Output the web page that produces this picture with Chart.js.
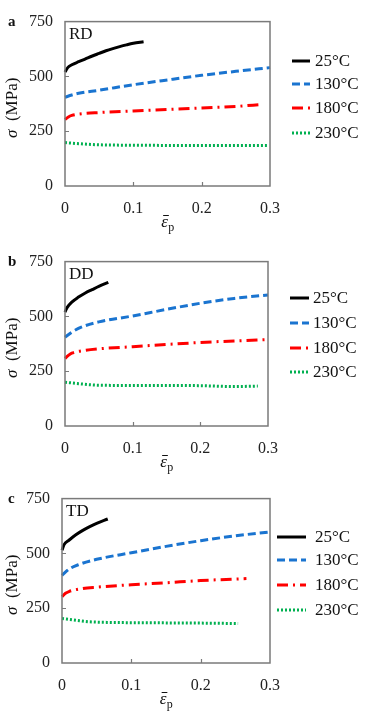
<!DOCTYPE html>
<html>
<head>
<meta charset="utf-8">
<script src="https://cdn.jsdelivr.net/npm/chart.js@4.4.1/dist/chart.umd.min.js"></script>
<style>
  html, body { margin: 0; padding: 0; background: #fff; }
  #wrap { position: relative; width: 367px; height: 714px; }
  .panel { position: absolute; left: 0; width: 367px; height: 237px; }
</style>
</head>
<body>
<div id="wrap">
  <div class="panel" style="top:0"><canvas id="chart-rd"></canvas></div>
  <div class="panel" style="top:240px"><canvas id="chart-dd"></canvas></div>
  <div class="panel" style="top:477px"><canvas id="chart-td"></canvas></div>
</div>
<script>
// Temperatures (legend labels)
const temps = ["25\u00b0C", "130\u00b0C", "180\u00b0C", "230\u00b0C"];
const yTicks = [0, 250, 500, 750];
const xTicks = [0, 0.1, 0.2, 0.3];

// RD: [plastic strain, stress MPa]
const rd25 = [[0, 520], [0.004, 540], [0.01, 553], [0.02, 567], [0.03, 580], [0.04, 593], [0.05, 605], [0.06, 617], [0.07, 627], [0.08, 636], [0.09, 644], [0.1, 651], [0.115, 658]];
const rd130 = [[0, 405], [0.01, 415], [0.02, 423], [0.05, 437], [0.1, 462], [0.15, 484], [0.2, 505], [0.25, 523], [0.3, 540]];
const rd180 = [[0, 303], [0.005, 315], [0.01, 322], [0.02, 328], [0.05, 335], [0.1, 342], [0.15, 349], [0.2, 356], [0.25, 363], [0.288, 372]];
const rd230 = [[0, 198], [0.02, 193], [0.05, 188], [0.1, 186], [0.2, 185], [0.297, 185]];

// DD
const dd25 = [[0, 520], [0.003, 540], [0.01, 565], [0.02, 588], [0.03, 607], [0.04, 622], [0.05, 637], [0.064, 655]];
const dd130 = [[0, 405], [0.01, 428], [0.025, 452], [0.05, 475], [0.1, 502], [0.15, 532], [0.2, 560], [0.25, 582], [0.3, 598]];
const dd180 = [[0, 308], [0.005, 322], [0.01, 332], [0.03, 345], [0.05, 352], [0.1, 362], [0.15, 372], [0.2, 381], [0.25, 388], [0.3, 394]];
const dd230 = [[0, 200], [0.02, 193], [0.05, 186], [0.1, 185], [0.15, 185], [0.2, 184], [0.25, 180], [0.285, 182]];

// TD
const td25 = [[0, 515], [0.003, 540], [0.01, 560], [0.02, 585], [0.03, 605], [0.04, 622], [0.05, 637], [0.066, 657]];
const td130 = [[0, 400], [0.01, 428], [0.025, 450], [0.05, 473], [0.1, 503], [0.15, 532], [0.2, 558], [0.25, 580], [0.3, 598]];
const td180 = [[0, 303], [0.005, 318], [0.01, 326], [0.03, 340], [0.05, 346], [0.1, 357], [0.15, 366], [0.2, 376], [0.266, 385]];
const td230 = [[0, 203], [0.02, 195], [0.04, 188], [0.07, 185], [0.1, 184], [0.15, 183], [0.2, 182], [0.254, 180]];

const serif = "'Liberation Serif', 'DejaVu Serif', serif";

const lineStyles = [
    { color: "#000000", dash: [] },
    { color: "#1a74d0", dash: [8, 4] },
    { color: "#ff0000", dash: [11, 5, 2, 5] },
    { color: "#00b050", dash: [2, 2] },
];

// Frame, inward ticks, axis titles, panel letter, direction, legend
const decorations = {
    id: "decorations",
    afterDraw(chart, args, opts) {
        const { ctx, chartArea: a, scales } = chart;
        ctx.save();

        // inward tick marks
        ctx.strokeStyle = "#7a7a7a";
        ctx.lineWidth = 1.2;
        ctx.beginPath();
        yTicks.slice(1, -1).forEach((v) => {
            const y = Math.round(scales.y.getPixelForValue(v)) + 0.5;
            ctx.moveTo(a.left, y);
            ctx.lineTo(a.left + 4, y);
        });
        xTicks.slice(1, -1).forEach((v) => {
            const x = Math.round(scales.x.getPixelForValue(v)) + 0.5;
            ctx.moveTo(x, a.bottom);
            ctx.lineTo(x, a.bottom - 4);
        });
        ctx.stroke();

        // frame
        ctx.lineWidth = 1.5;
        ctx.strokeRect(a.left, a.top, a.right - a.left, a.bottom - a.top);

        ctx.fillStyle = "#111";

        // panel letter
        ctx.font = "bold 15px " + serif;
        ctx.textAlign = "left";
        ctx.textBaseline = "middle";
        ctx.fillText(opts.letter, 8, a.top + 1);

        // direction label
        ctx.font = "17px " + serif;
        ctx.fillText(opts.dir, a.left + 4, a.top + 13);

        // y axis title: sigma (MPa)
        ctx.save();
        ctx.translate(13, (a.top + a.bottom) / 2 + 4);
        ctx.rotate(-Math.PI / 2);
        ctx.font = "italic 17px " + serif;
        const s1 = "\u03c3";
        const s2 = "  (MPa)";
        const w1 = ctx.measureText(s1).width;
        ctx.font = "17px " + serif;
        const w2 = ctx.measureText(s2).width;
        let x0 = -(w1 + w2) / 2;
        ctx.font = "italic 17px " + serif;
        ctx.fillText(s1, x0, 0);
        ctx.font = "17px " + serif;
        ctx.fillText(s2, x0 + w1, 0);
        ctx.restore();

        // x axis title: epsilon bar, subscript p
        const cx = (a.left + a.right) / 2;
        ctx.font = "italic 17px " + serif;
        const we = ctx.measureText("\u03b5").width;
        ctx.font = "12px " + serif;
        const wp = ctx.measureText("p").width;
        const ex = cx - (we + wp) / 2;
        const ey = a.bottom + 41;
        ctx.font = "italic 17px " + serif;
        ctx.textBaseline = "alphabetic";
        ctx.fillText("\u03b5", ex, ey);
        ctx.lineWidth = 1;
        ctx.strokeStyle = "#111";
        ctx.beginPath();
        ctx.moveTo(ex + 2, ey - 11.5);
        ctx.lineTo(ex + we + 1, ey - 11.5);
        ctx.stroke();
        ctx.font = "12px " + serif;
        ctx.fillText("p", ex + we + 0.5, ey + 4);

        // legend
        ctx.textBaseline = "middle";
        ctx.font = "17px " + serif;
        chart.data.datasets.forEach((ds, i) => {
            const y = opts.legendY[i];
            ctx.strokeStyle = ds.borderColor;
            ctx.lineWidth = 3;
            ctx.setLineDash(ds.borderDash || []);
            ctx.beginPath();
            ctx.moveTo(opts.legendX, y);
            ctx.lineTo(opts.legendX + opts.legendLen, y);
            ctx.stroke();
            ctx.setLineDash([]);
            ctx.fillStyle = "#111";
            ctx.fillText(ds.label, opts.textX, y + 1);
        });

        ctx.restore();
    },
};

const makePanel = (id, series, geom) => {
    const ctx = document.getElementById(id);
    return new Chart(ctx, {
        type: "scatter",
        data: {
            datasets: series.map((pts, i) => ({
                label: temps[i],
                data: pts.map(([x, y]) => ({ x, y })),
                showLine: true,
                borderColor: lineStyles[i].color,
                borderDash: lineStyles[i].dash,
                borderWidth: 3,
                pointRadius: 0,
                cubicInterpolationMode: "monotone",
                clip: 4,
            })),
        },
        options: {
            responsive: true,
            maintainAspectRatio: false,
            animation: false,
            layout: {
                padding: { left: 0, top: geom.top, right: geom.right, bottom: 0 },
            },
            scales: {
                x: {
                    type: "linear",
                    min: 0,
                    max: 0.3,
                    afterBuildTicks: (scale) => {
                        scale.ticks = xTicks.map((v) => ({ value: v }));
                    },
                    afterFit: (scale) => {
                        scale.height = geom.bottom;
                    },
                    grid: { display: false, drawTicks: false },
                    border: { display: false },
                    ticks: {
                        padding: 13,
                        color: "#222",
                        font: { family: serif, size: 16 },
                        maxRotation: 0,
                        callback: (v) => (v === 0 ? "0" : v.toFixed(1)),
                    },
                },
                y: {
                    min: 0,
                    max: 750,
                    afterBuildTicks: (scale) => {
                        scale.ticks = yTicks.map((v) => ({ value: v }));
                    },
                    afterFit: (scale) => {
                        scale.width = geom.left;
                    },
                    grid: { display: false, drawTicks: false },
                    border: { display: false },
                    ticks: {
                        padding: 12,
                        color: "#222",
                        font: { family: serif, size: 16 },
                    },
                },
            },
            plugins: {
                legend: { display: false },
                tooltip: { enabled: false },
                decorations: geom.deco,
            },
        },
        plugins: [decorations],
    });
};

makePanel("chart-rd", [rd25, rd130, rd180, rd230], {
    top: 13, bottom: 51, left: 65, right: 97,
    deco: { letter: "a", dir: "RD", legendX: 292, legendLen: 18, textX: 315, legendY: [61, 84, 108, 133] },
});
makePanel("chart-dd", [dd25, dd130, dd180, dd230], {
    top: 15, bottom: 51, left: 65, right: 99,
    deco: { letter: "b", dir: "DD", legendX: 290, legendLen: 19, textX: 313, legendY: [58, 83, 108, 132] },
});
makePanel("chart-td", [td25, td130, td180, td230], {
    top: 13, bottom: 51, left: 62, right: 97,
    deco: { letter: "c", dir: "TD", legendX: 277, legendLen: 29, textX: 315, legendY: [60, 83, 108, 133] },
});
</script>
</body>
</html>
